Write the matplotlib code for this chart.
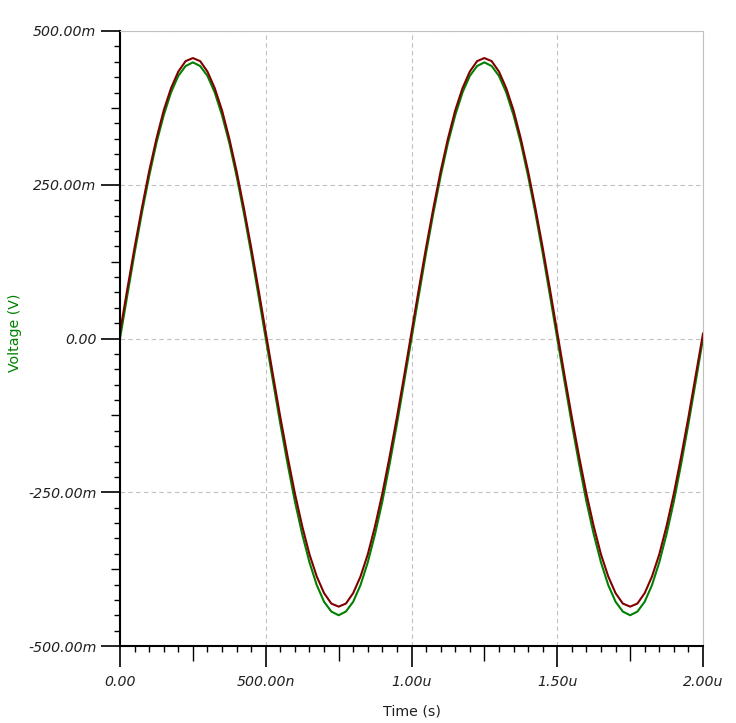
import matplotlib.pyplot as plt
from matplotlib.ticker import FixedLocator, FixedFormatter

# time axis in ns, one sample every 25 ns
time_ns = [i * 25 for i in range(81)]

# green trace (mV)
v_green = [
    0, 70, 139, 204, 264, 318, 363, 400, 427, 443,
    449, 443, 427, 400, 363, 318, 264, 204, 139, 70,
    0, -70, -139, -204, -265, -318, -364, -401, -428, -444,
    -450, -444, -428, -401, -364, -318, -265, -204, -139, -70,
    0, 70, 139, 204, 264, 318, 363, 400, 427, 443,
    449, 443, 427, 400, 363, 318, 264, 204, 139, 70,
    0, -70, -139, -204, -265, -318, -364, -401, -428, -444,
    -450, -444, -428, -401, -364, -318, -265, -204, -139, -70,
    0,
]

# dark red trace (mV)
v_red = [
    10, 80, 148, 212, 272, 325, 371, 407, 434, 451,
    456, 451, 434, 407, 371, 325, 272, 212, 148, 80,
    10, -60, -128, -192, -252, -305, -351, -387, -414, -431,
    -436, -431, -414, -387, -351, -305, -252, -192, -128, -60,
    10, 80, 148, 212, 272, 325, 371, 407, 434, 451,
    456, 451, 434, 407, 371, 325, 272, 212, 148, 80,
    10, -60, -128, -192, -252, -305, -351, -387, -414, -431,
    -436, -431, -414, -387, -351, -305, -252, -192, -128, -60,
    8,
]

x_major = [0, 500, 1000, 1500, 2000]
x_labels = ['0.00', '500.00n', '1.00u', '1.50u', '2.00u']
y_major = [-500, -250, 0, 250, 500]
y_labels = ['-500.00m', '-250.00m', '0.00', '250.00m', '500.00m']

fig = plt.figure(figsize=(7.36, 7.23), dpi=100)
ax = fig.add_axes([120 / 736, 1 - 646 / 723, 583 / 736, 615 / 723])

ax.plot(time_ns, v_green, color='#008000', lw=1.5)
ax.plot(time_ns, v_red, color='#800000', lw=1.5)

ax.set_xlim(0, 2000)
ax.set_ylim(-500, 500)

# major ticks + labels
ax.xaxis.set_major_locator(FixedLocator(x_major))
ax.xaxis.set_major_formatter(FixedFormatter(x_labels))
ax.yaxis.set_major_locator(FixedLocator(y_major))
ax.yaxis.set_major_formatter(FixedFormatter(y_labels))

# small ticks
x_minor = [t for t in range(0, 2001, 50) if t % 250 != 0]
y_minor = [v for v in range(-500, 501, 25) if v % 125 != 0]
ax.xaxis.set_minor_locator(FixedLocator(x_minor))
ax.yaxis.set_minor_locator(FixedLocator(y_minor))

ax.tick_params(which='major', axis='x', length=15, width=1.2, color='black', pad=6)
ax.tick_params(which='major', axis='y', length=14, width=1.2, color='black', pad=3)
ax.tick_params(which='minor', length=4.3, width=1.0, color='black')
for lbl in ax.get_xticklabels() + ax.get_yticklabels():
    lbl.set_fontstyle('italic')
    lbl.set_fontsize(10.2)
    lbl.set_color('#202020')

# medium ticks at the half-way points
sx = ax.secondary_xaxis('bottom')
sx.set_xticks([250, 750, 1250, 1750])
sx.tick_params(length=10.5, width=1.0, color='black', labelbottom=False)
sx.spines['bottom'].set_visible(False)
sy = ax.secondary_yaxis('left')
sy.set_yticks([-375, -125, 125, 375])
sy.tick_params(length=6.5, width=1.0, color='black', labelleft=False)
sy.spines['left'].set_visible(False)

# grid
ax.grid(True, which='major', color='#c0c0c0', linestyle=(0, (4, 3)), lw=0.8)

ax.spines['left'].set_color('black')
ax.spines['left'].set_linewidth(1.5)
ax.spines['bottom'].set_color('black')
ax.spines['bottom'].set_linewidth(1.5)
ax.spines['top'].set_color('#c0c0c0')
ax.spines['right'].set_color('#c0c0c0')

ax.set_xlabel('Time (s)', fontsize=10.2, color='#202020', labelpad=11)
ax.set_ylabel('Voltage (V)', fontsize=10.2, color='#008000')
ax.yaxis.set_label_coords(-98 / 583, 0.51)

plt.savefig('out.png', dpi=100)
